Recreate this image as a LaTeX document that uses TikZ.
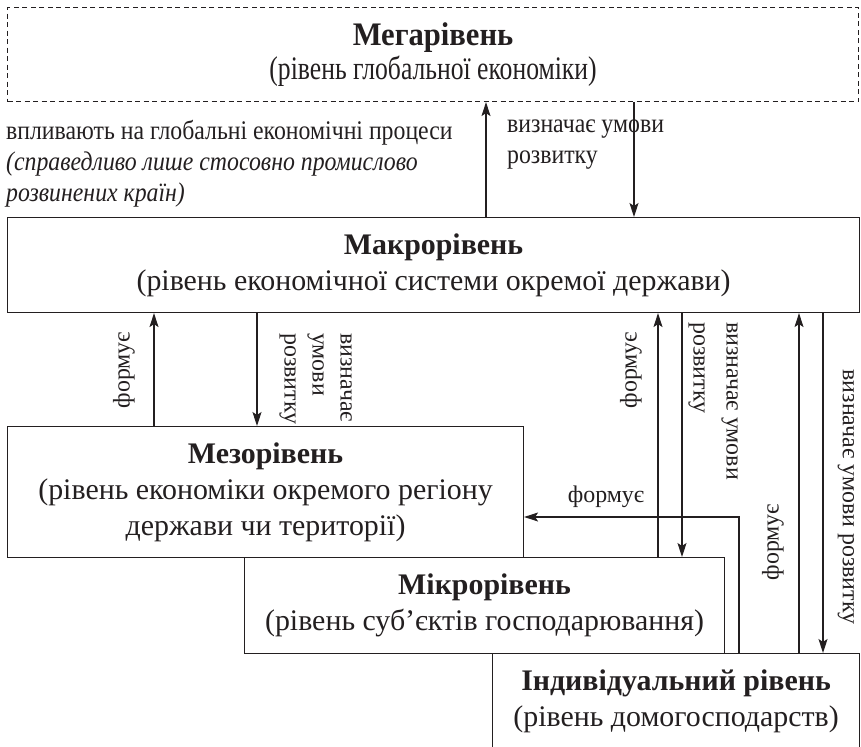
\documentclass[tikz,border=0pt]{standalone}
\usepackage{fontspec}
\setmainfont{Liberation Serif}
\usetikzlibrary{arrows.meta,positioning}
\definecolor{ink}{HTML}{231F20}
\newcommand{\narrowtxt}[2]{\scalebox{#1}[1]{#2}}
\tikzset{
  box/.style={draw=ink, line width=1.1bp, anchor=north west, align=center, text=ink, inner sep=0pt, font=\fontsize{30}{36}\selectfont},
  dashbox/.style={box, dash pattern=on 5bp off 3.5bp, font=\fontsize{33}{35}\selectfont},
  link/.style={draw=ink, line width=1.1bp, -{Stealth[length=14bp,width=9bp,inset=3bp]}},
  lbl/.style={text=ink, inner sep=0pt, font=\fontsize{24}{28}\selectfont},
  note/.style={text=ink, inner sep=0pt, align=left, anchor=north west, xscale=0.884, font=\fontsize{27}{31}\selectfont}
}

\begin{document}
\begin{tikzpicture}[x=1bp,y=-1bp]
  \useasboundingbox (0,0) rectangle (861,747);

  % levels
  \node[dashbox, minimum width=851bp, minimum height=94bp] (mega) at (7,7)
    {\narrowtxt{0.93}{\textbf{Мегарівень}}\\\narrowtxt{0.78}{(рівень глобальної економіки)}};
  \node[box, minimum width=852bp, minimum height=95bp] (macro) at (7,217)
    {\textbf{Макрорівень}\\(рівень економічної системи окремої держави)};
  \node[box, minimum width=516bp, minimum height=131bp] (meso) at (7,426)
    {\textbf{Мезорівень}\\(рівень економіки окремого регіону\\держави чи території)};
  \node[box, minimum width=480bp, minimum height=96bp] (micro) at (244,557)
    {\textbf{Мікрорівень}\\(рівень суб’єктів господарювання)};
  \node[box, minimum width=367bp, minimum height=96bp] (indiv) at (492,653)
    {\textbf{Індивідуальний рівень}\\(рівень домогосподарств)};

  % columns of the connectors
  \coordinate (xa) at (486,0);
  \coordinate (xb) at (634,0);
  \coordinate (xc) at (154,0);
  \coordinate (xd) at (257,0);
  \coordinate (xe) at (658,0);
  \coordinate (xf) at (682,0);
  \coordinate (xg) at (739,0);
  \coordinate (yg) at (0,517);
  \coordinate (xh) at (799,0);
  \coordinate (xi) at (823,0);

  \draw[link] (xa |- macro.north) -- (xa |- mega.south);
  \draw[link] (xb |- mega.south) -- (xb |- macro.north);
  \draw[link] (xc |- meso.north) -- (xc |- macro.south);
  \draw[link] (xd |- macro.south) -- (xd |- meso.north);
  \draw[link] (xe |- micro.north) -- (xe |- macro.south);
  \draw[link] (xf |- macro.south) -- (xf |- micro.north);
  \draw[link] (xg |- indiv.north) |- (meso.east |- yg);
  \draw[link] (xh |- indiv.north) -- (xh |- macro.south);
  \draw[link] (xi |- macro.south) -- (xi |- indiv.north);

  % labels
  \node[note] (influence) at (6,120)
    {впливають на глобальні економічні процеси\\\textit{(справедливо лише стосовно промислово}\\\textit{розвинених країн)}};
  \node[note] (megacond) at (507,120) {визначає умови\\розвитку};

  \node[lbl, rotate=90] (formB) at (124,370) {формує};
  \node[lbl, rotate=-90, align=left, anchor=north west] (condB) at (352,333) {визначає\\умови\\розвитку};
  \node[lbl, rotate=90] (formC) at (631,370) {формує};
  \node[lbl, rotate=-90, align=left, anchor=north west, font=\fontsize{24}{33}\selectfont] (condC) at (738,322) {визначає умови\\розвитку};
  \node[lbl] (formD) at (606,497) {формує};
  \node[lbl, rotate=90] (formE) at (773,542) {формує};
  \node[lbl, rotate=-90] (condE) at (846,497) {визначає умови розвитку};
\end{tikzpicture}
\end{document}
